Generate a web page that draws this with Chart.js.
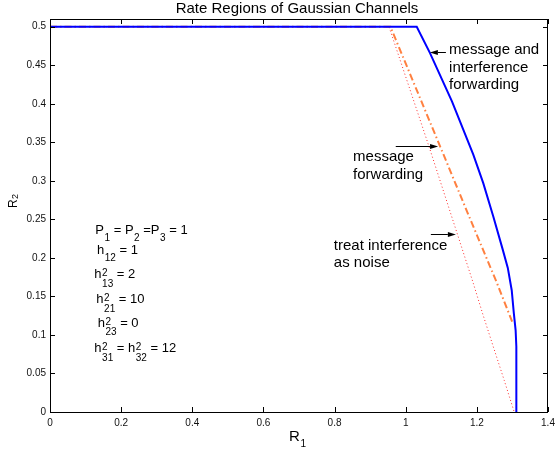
<!DOCTYPE html>
<html>
<head>
<meta charset="utf-8">
<script src="https://cdn.jsdelivr.net/npm/chart.js@4.4.0/dist/chart.umd.min.js"></script>
<style>
  html, body { margin: 0; padding: 0; background: #fff; }
</style>
</head>
<body>
<canvas id="myChart" width="555" height="453"></canvas>
<script>
// axis ticks
const xTicks = [0, 0.2, 0.4, 0.6, 0.8, 1, 1.2, 1.4];
const yTicks = [0, 0.05, 0.1, 0.15, 0.2, 0.25, 0.3, 0.35, 0.4, 0.45, 0.5];

// message and interference forwarding (solid blue)
const mifR1 = [0, 1.031, 1.068, 1.13, 1.19, 1.218, 1.246, 1.272, 1.287, 1.298, 1.304, 1.309, 1.311, 1.311];
const mifR2 = [0.5, 0.5, 0.466, 0.403, 0.334, 0.297, 0.254, 0.212, 0.187, 0.158, 0.128, 0.106, 0.085, 0];

// message forwarding (orange dash-dot)
const mfR1 = [0, 0.957, 1.1, 1.178, 1.255, 1.302];
const mfR2 = [0.5, 0.5, 0.341, 0.254, 0.169, 0.114];

// treat interference as noise (red dotted)
const tinR1 = [0, 0.953, 1.068, 1.129, 1.19, 1.216, 1.246, 1.277, 1.305];
const tinR2 = [0.5, 0.5, 0.341, 0.254, 0.167, 0.128, 0.085, 0.041, 0];

const FONT = "'Liberation Sans', Arial, Helvetica, sans-serif";

function toPoints(xs, ys) {
  return xs.map((x, i) => ({ x: x, y: ys[i] }));
}

// annotations, in data units
const labels = [
  { x: 1.122, y: 0.464, lines: ["message and", "interference", "forwarding"] },
  { x: 0.852, y: 0.3252, lines: ["message", "forwarding"] },
  { x: 0.798, y: 0.2103, lines: ["treat interference", "as noise"] },
];
const arrows = [
  { x0: 1.113, x1: 1.068, y: 0.4675 },
  { x0: 0.972, x1: 1.091, y: 0.3447 },
  { x0: 1.0707, x1: 1.141, y: 0.2307 },
];

const paramLines = [
  { x: 0.1275, y: 0.2307, parts: [{ t: "P" }, { sub: "1" }, { t: " = P" }, { sub: "2" }, { t: " =P" }, { sub: "3" }, { t: " = 1" }] },
  { x: 0.1323, y: 0.2047, parts: [{ t: "h" }, { sub: "12" }, { t: " = 1" }] },
  { x: 0.1247, y: 0.1735, parts: [{ t: "h" }, { sup: "2", sub: "13" }, { t: " = 2" }] },
  { x: 0.1303, y: 0.141, parts: [{ t: "h" }, { sup: "2", sub: "21" }, { t: " = 10" }] },
  { x: 0.134, y: 0.1106, parts: [{ t: "h" }, { sup: "2", sub: "23" }, { t: " = 0" }] },
  { x: 0.1247, y: 0.0773, parts: [{ t: "h" }, { sup: "2", sub: "31" }, { t: " = h" }, { sup: "2", sub: "32" }, { t: " = 12" }] },
];

function richText(ctx, x, y, parts, size) {
  let cx = x;
  const small = 10;
  parts.forEach((p) => {
    if (p.t) {
      ctx.font = size + "px " + FONT;
      ctx.fillText(p.t, cx, y);
      cx += ctx.measureText(p.t).width;
    } else {
      ctx.font = small + "px " + FONT;
      let w = 0;
      if (p.sup) {
        ctx.fillText(p.sup, cx + 0.5, y - 2);
        w = ctx.measureText(p.sup).width;
      }
      if (p.sub) {
        ctx.fillText(p.sub, cx + 0.5, y + (p.sup ? 8.5 : 7));
        w = Math.max(w, ctx.measureText(p.sub).width);
      }
      cx += w + 0.5;
    }
  });
}

function drawArrow(ctx, x0, y, x1) {
  const dir = x1 > x0 ? 1 : -1;
  const head = 8;
  ctx.beginPath();
  ctx.moveTo(x0, y);
  ctx.lineTo(x1 - dir * head, y);
  ctx.stroke();
  ctx.beginPath();
  ctx.moveTo(x1, y);
  ctx.lineTo(x1 - dir * head, y - 2.5);
  ctx.lineTo(x1 - dir * head, y + 2.5);
  ctx.closePath();
  ctx.fill();
}

const decorations = {
  id: "decorations",
  afterDatasetsDraw(chart) {
    const ctx = chart.ctx;
    const area = chart.chartArea;
    const xs = chart.scales.x;
    const ys = chart.scales.y;
    ctx.save();

    // box
    ctx.strokeStyle = "#000";
    ctx.lineWidth = 1;
    ctx.strokeRect(area.left + 0.5, area.top + 0.5, area.right - area.left - 1, area.bottom - area.top);

    // inward tick marks on all four sides
    ctx.beginPath();
    xTicks.forEach((v) => {
      const px = Math.round(xs.getPixelForValue(v)) + 0.5;
      ctx.moveTo(px, area.bottom);
      ctx.lineTo(px, area.bottom - 5);
      ctx.moveTo(px, area.top);
      ctx.lineTo(px, area.top + 5);
    });
    yTicks.forEach((v) => {
      const py = Math.round(ys.getPixelForValue(v)) + 0.5;
      ctx.moveTo(area.left, py);
      ctx.lineTo(area.left + 5, py);
      ctx.moveTo(area.right, py);
      ctx.lineTo(area.right - 5, py);
    });
    ctx.stroke();

    ctx.fillStyle = "#000";
    ctx.textBaseline = "alphabetic";
    ctx.textAlign = "left";

    // title
    ctx.font = "15px " + FONT;
    ctx.textAlign = "center";
    ctx.fillText("Rate Regions of Gaussian Channels", (area.left + area.right) / 2 - 2, 12.5);
    ctx.textAlign = "left";

    // x label R_1
    ctx.font = "15px " + FONT;
    ctx.fillText("R", 289, 440.5);
    ctx.font = "10px " + FONT;
    ctx.fillText("1", 300.5, 446.5);

    // y label R_2 (rotated)
    ctx.save();
    ctx.translate(17, 208);
    ctx.rotate(-Math.PI / 2);
    ctx.font = "12px " + FONT;
    ctx.fillText("R", 0, 0);
    ctx.font = "9px " + FONT;
    ctx.fillText("2", 9, 1);
    ctx.restore();

    // curve labels
    ctx.font = "15px " + FONT;
    labels.forEach((l) => {
      const px = xs.getPixelForValue(l.x);
      const py = ys.getPixelForValue(l.y);
      l.lines.forEach((s, i) => ctx.fillText(s, px, py + i * 17.5));
    });

    ctx.lineWidth = 1;
    arrows.forEach((a) => {
      const py = Math.round(ys.getPixelForValue(a.y)) + 0.5;
      drawArrow(ctx, xs.getPixelForValue(a.x0), py, xs.getPixelForValue(a.x1));
    });

    // parameter block
    paramLines.forEach((l) => {
      richText(ctx, xs.getPixelForValue(l.x), ys.getPixelForValue(l.y), l.parts, 13);
    });

    ctx.restore();
  },
};

new Chart(document.getElementById("myChart").getContext("2d"), {
  type: "scatter",
  data: {
    datasets: [
      {
        label: "message and interference forwarding",
        data: toPoints(mifR1, mifR2),
        showLine: true,
        borderColor: "#0000ff",
        borderWidth: 2,
        pointRadius: 0,
        fill: false,
        order: 0,
      },
      {
        label: "message forwarding",
        data: toPoints(mfR1, mfR2),
        showLine: true,
        borderColor: "#ff8040",
        borderWidth: 2,
        borderDash: [7, 3, 1.5, 3],
        pointRadius: 0,
        fill: false,
        order: 1,
      },
      {
        label: "treat interference as noise",
        data: toPoints(tinR1, tinR2),
        showLine: true,
        borderColor: "#ff2a2a",
        borderWidth: 1,
        borderDash: [1, 2.5],
        pointRadius: 0,
        fill: false,
        order: 2,
      },
    ],
  },
  options: {
    responsive: false,
    animation: false,
    devicePixelRatio: 1,
    layout: { padding: { top: 19, right: 7, bottom: 0, left: 0 } },
    plugins: { legend: { display: false }, tooltip: { enabled: false } },
    scales: {
      x: {
        type: "linear",
        min: 0,
        max: 1.4,
        afterBuildTicks: (scale) => {
          scale.ticks = xTicks.map((v) => ({ value: v }));
        },
        afterFit: (scale) => {
          scale.height = 41;
          scale.paddingLeft = 0;
          scale.paddingRight = 0;
        },
        ticks: {
          autoSkip: false,
          maxRotation: 0,
          padding: 5,
          color: "#111",
          font: { family: FONT, size: 10 },
          callback: (v) => String(v),
        },
        grid: { display: false, drawTicks: false },
        border: { display: false },
      },
      y: {
        type: "linear",
        min: 0,
        max: 0.51,
        afterBuildTicks: (scale) => {
          scale.ticks = yTicks.map((v) => ({ value: v }));
        },
        afterFit: (scale) => {
          scale.width = 50;
          scale.paddingTop = 0;
          scale.paddingBottom = 0;
        },
        ticks: {
          autoSkip: false,
          padding: 4,
          color: "#111",
          font: { family: FONT, size: 10 },
          callback: (v) => String(v),
        },
        grid: { display: false, drawTicks: false },
        border: { display: false },
      },
    },
  },
  plugins: [decorations],
});
</script>
</body>
</html>
